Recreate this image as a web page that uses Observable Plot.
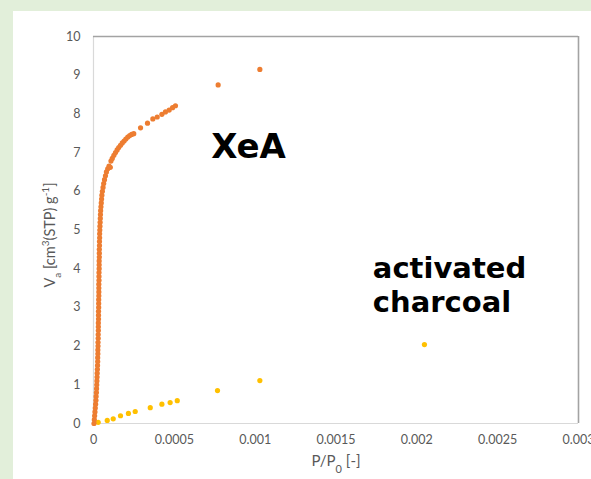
<!DOCTYPE html>
<html>
<head>
<meta charset="utf-8">
<script src="https://cdn.jsdelivr.net/npm/d3@7"></script>
<script src="https://cdn.jsdelivr.net/npm/@observablehq/plot@0.6"></script>
<style>
  html, body { margin: 0; padding: 0; width: 591px; height: 479px; overflow: hidden; background: #e2efda; }
  #panel { position: absolute; left: 13px; top: 11px; right: 0; bottom: 0; background: #ffffff; }
  #chart { position: absolute; left: 0; top: 0; }
</style>
</head>
<body>
<div id="panel"></div>
<div id="chart"></div>
<script>
// XeA isotherm: relative pressure P/P0 and adsorbed volume Va
const xeaP = [
  0.000003, 0.000005, 0.000007, 0.000009, 0.000011, 0.000013, 0.000015, 0.000016, 0.000018, 0.000019,
  0.000020, 0.000021, 0.000022, 0.000023, 0.000024, 0.000025, 0.000026, 0.000026, 0.000027, 0.000027,
  0.000028, 0.000028, 0.000029, 0.000029, 0.000030, 0.000030, 0.000030, 0.000031, 0.000031, 0.000031,
  0.000032, 0.000032, 0.000032, 0.000033, 0.000033, 0.000033, 0.000033, 0.000034, 0.000034, 0.000034,
  0.000035, 0.000035, 0.000035, 0.000036, 0.000036, 0.000036, 0.000037, 0.000037, 0.000038, 0.000038,
  0.000039, 0.000040, 0.000041, 0.000042, 0.000043, 0.000044, 0.000046, 0.000048, 0.000050, 0.000052,
  0.000055, 0.000059, 0.000063, 0.000068, 0.000074, 0.000080, 0.000088, 0.000096, 0.000104, 0.000108,
  0.000116, 0.000126, 0.000136, 0.000146, 0.000156, 0.000167, 0.000178, 0.000189, 0.000200, 0.000212,
  0.000224, 0.000236, 0.000249,
  0.000291, 0.000334, 0.000367, 0.000394, 0.000423, 0.000445, 0.000468, 0.000489, 0.000507,
  0.000771, 0.001029
];
const xeaV = [
  0.00, 0.10, 0.20, 0.30, 0.40, 0.50, 0.60, 0.70, 0.80, 0.90,
  1.00, 1.10, 1.20, 1.30, 1.40, 1.50, 1.60, 1.70, 1.80, 1.90,
  2.00, 2.10, 2.20, 2.30, 2.40, 2.50, 2.60, 2.70, 2.80, 2.90,
  3.00, 3.10, 3.20, 3.30, 3.40, 3.50, 3.60, 3.70, 3.80, 3.90,
  4.00, 4.10, 4.20, 4.30, 4.40, 4.50, 4.60, 4.70, 4.80, 4.90,
  5.00, 5.10, 5.20, 5.30, 5.40, 5.50, 5.60, 5.70, 5.80, 5.90,
  6.00, 6.10, 6.20, 6.30, 6.40, 6.50, 6.58, 6.65, 6.62, 6.78,
  6.85, 6.93, 7.00, 7.07, 7.13, 7.19, 7.25, 7.30, 7.35, 7.40,
  7.44, 7.47, 7.49,
  7.64, 7.76, 7.87, 7.92, 7.99, 8.05, 8.10, 8.16, 8.21,
  8.75, 9.15
];

// Activated charcoal isotherm
const acP = [0.000029, 0.000085, 0.000122, 0.000167, 0.000216, 0.000258, 0.000351, 0.000423, 0.000474, 0.000518, 0.000767, 0.001029, 0.002047];
const acV = [0.03, 0.08, 0.12, 0.20, 0.26, 0.31, 0.41, 0.50, 0.54, 0.59, 0.85, 1.11, 2.04];

// Tick values
const xTicks = [0, 0.0005, 0.001, 0.0015, 0.002, 0.0025, 0.003];
const xTickLabels = ["0", "0.0005", "0.001", "0.0015", "0.002", "0.0025", "0.003"];
const yTicks = [0, 1, 2, 3, 4, 5, 6, 7, 8, 9, 10];

// Series labels
const labelTexts = ["XeA", "activated\ncharcoal"];
const labelP = [0.000728, 0.001728];
const labelV = [6.86, 2.87];
const labelSize = [34, 29];

const xea = xeaP.map((p, i) => ({p, v: xeaV[i]}));
const ac = acP.map((p, i) => ({p, v: acV[i]}));
const labels = labelTexts.map((t, i) => ({t, p: labelP[i], v: labelV[i], s: labelSize[i]}));

const fmtX = (d) => xTickLabels[xTicks.indexOf(d)] ?? "";
const W = 591, H = 479;
const chart = Plot.plot({
  width: W,
  height: H,
  marginLeft: 93,
  marginRight: 13,
  marginTop: 36,
  marginBottom: 56,
  style: {background: "transparent", fontFamily: "Lato, 'Open Sans', sans-serif", fontSize: "12.5px", color: "#595959", overflow: "visible"},
  x: {domain: [0, 0.003], ticks: xTicks, tickFormat: fmtX, label: null},
  y: {domain: [0, 10], ticks: yTicks, label: null},
  marks: [
    Plot.ruleX([0], {stroke: "#d9d9d9", strokeWidth: 1.2}),
    Plot.ruleY([0], {stroke: "#d9d9d9", strokeWidth: 1.2}),
    Plot.ruleY([10], {stroke: "#a3a3a3", strokeWidth: 1.6}),
    Plot.ruleX([0.003], {stroke: "#a3a3a3", strokeWidth: 1.6}),
    Plot.axisX({ticks: xTicks, tickSize: 0, tickPadding: 12, tickFormat: fmtX, label: null, fill: "#595959"}),
    Plot.axisY({ticks: yTicks, tickSize: 0, tickPadding: 13, label: null, fill: "#595959"}),
    Plot.dot(ac, {x: "p", y: "v", r: 2.6, fill: "#ffc000", stroke: "none"}),
    Plot.dot(xea, {x: "p", y: "v", r: 2.6, fill: "#ed7d31", stroke: "none"}),
    Plot.text(labels, {x: "p", y: "v", text: "t", fontSize: "s", textAnchor: "start", lineAnchor: "bottom", lineHeight: 1.2, fontWeight: "bold", fill: "#000000", fontFamily: "'DejaVu Sans', Verdana, sans-serif"})
  ]
});
document.getElementById("chart").appendChild(chart);

// Axis titles with sub/superscripts
const svg = d3.select(chart);
const xt = svg.append("text")
  .attr("x", 336).attr("y", 466)
  .attr("text-anchor", "middle")
  .attr("fill", "#595959")
  .style("font-family", "Lato, 'Open Sans', sans-serif")
  .style("font-size", "15px");
xt.append("tspan").text("P/P");
xt.append("tspan").attr("baseline-shift", "sub").style("font-size", "11px").text("0");
xt.append("tspan").text(" [-]");

const yt = svg.append("text")
  .attr("transform", "translate(55,235) rotate(-90)")
  .attr("text-anchor", "middle")
  .attr("fill", "#595959")
  .style("font-family", "Lato, 'Open Sans', sans-serif")
  .style("font-size", "14.5px");
yt.append("tspan").text("V");
yt.append("tspan").attr("baseline-shift", "sub").style("font-size", "10px").text("a");
yt.append("tspan").text(" [cm");
yt.append("tspan").attr("baseline-shift", "super").style("font-size", "10px").text("3");
yt.append("tspan").text("(STP) g");
yt.append("tspan").attr("baseline-shift", "super").style("font-size", "10px").text("-1");
yt.append("tspan").text("]");
</script>
</body>
</html>
